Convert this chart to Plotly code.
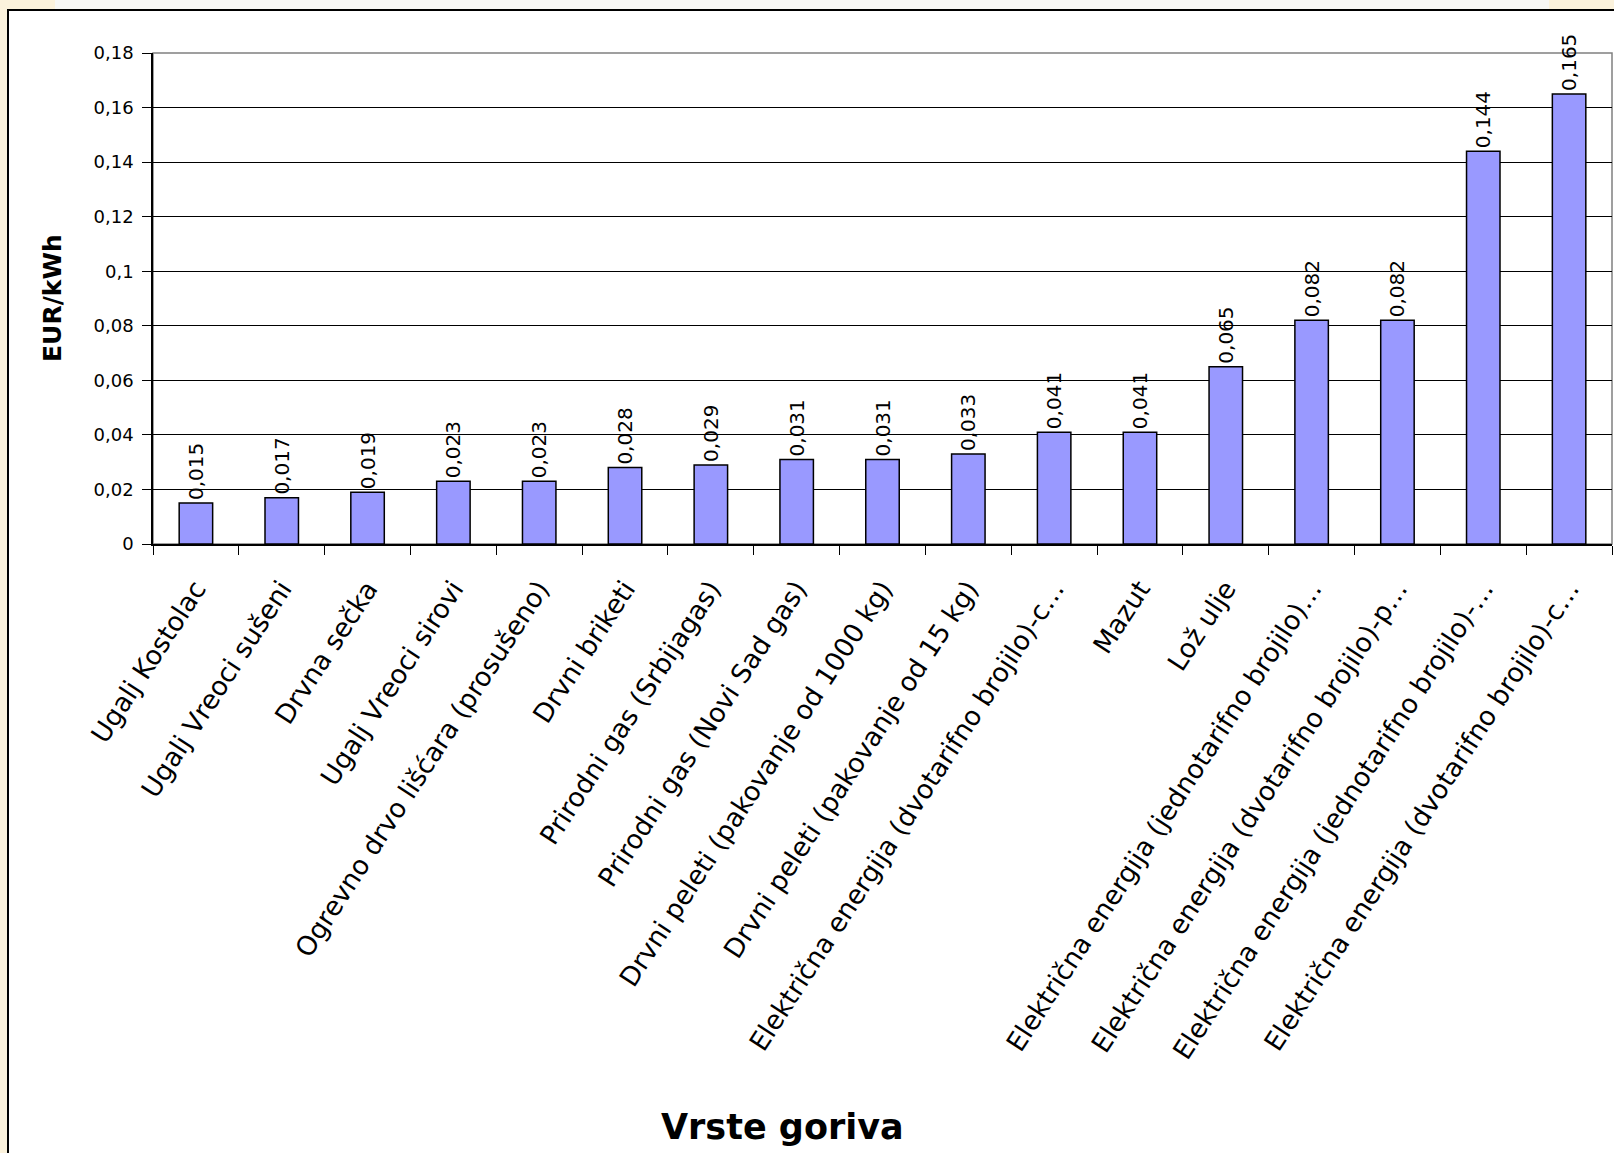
import plotly.graph_objects as go

categories = [
    "Ugalj Kostolac",
    "Ugalj Vreoci sušeni",
    "Drvna sečka",
    "Ugalj Vreoci sirovi",
    "Ogrevno drvo lišćara (prosušeno)",
    "Drvni briketi",
    "Prirodni gas (Srbijagas)",
    "Prirodni gas (Novi Sad gas)",
    "Drvni peleti (pakovanje od 1000 kg)",
    "Drvni peleti (pakovanje od 15 kg)",
    "Električna energija (dvotarifno brojilo)-c…",
    "Mazut",
    "Lož ulje",
    "Električna energija (jednotarifno brojilo)…",
    "Električna energija (dvotarifno brojilo)-p…",
    "Električna energija (jednotarifno brojilo)-…",
    "Električna energija (dvotarifno brojilo)-c…",
]
values = [0.015, 0.017, 0.019, 0.023, 0.023, 0.028, 0.029, 0.031, 0.031,
          0.033, 0.041, 0.041, 0.065, 0.082, 0.082, 0.144, 0.165]
value_labels = ["0,015", "0,017", "0,019", "0,023", "0,023", "0,028", "0,029",
                "0,031", "0,031", "0,033", "0,041", "0,041", "0,065", "0,082",
                "0,082", "0,144", "0,165"]
ytick_vals = [0, 0.02, 0.04, 0.06, 0.08, 0.1, 0.12, 0.14, 0.16, 0.18]
ytick_text = ["0", "0,02", "0,04", "0,06", "0,08", "0,1", "0,12", "0,14", "0,16", "0,18"]
y_title = "EUR/kWh"
x_title = "Vrste goriva"

FONT = "DejaVu Sans"
W, H = 1614, 1153
L, R, T, B = 153, 1612, 53, 544  # plot area in pixels

def px(x):
    return (x - L) / (R - L)

def py(y):
    return (B - y) / (B - T)

idx = list(range(len(categories)))

fig = go.Figure()
fig.add_trace(go.Bar(
    x=idx, y=values, width=0.39,
    marker=dict(color="#9999FF", line=dict(color="#000000", width=1.5)),
    text=value_labels, textposition="outside", textangle=-90,
    textfont=dict(family=FONT, size=20, color="#000000"),
    cliponaxis=False, constraintext="none",
    hoverinfo="skip",
))

shapes = [
    dict(type="rect", xref="paper", yref="paper", x0=px(55), x1=px(1549), y0=py(10), y1=py(0),
         fillcolor="#F7F7F5", line=dict(width=0), layer="below"),
    dict(type="rect", xref="paper", yref="paper", x0=px(8), x1=px(1630), y0=py(1170), y1=py(10),
         fillcolor="#FFFFFF", line=dict(color="#000000", width=2), layer="below"),
    dict(type="rect", xref="paper", yref="paper", x0=0, x1=1, y0=0, y1=1,
         fillcolor="rgba(0,0,0,0)", line=dict(color="#808080", width=1.5), layer="below"),
]

annotations = [
    dict(text=f"<b>{y_title}</b>", xref="paper", yref="paper", x=px(52), y=py(298),
         textangle=-90, showarrow=False, xanchor="center", yanchor="middle",
         font=dict(family=FONT, size=25, color="#000000")),
    dict(text=f"<b>{x_title}</b>", xref="paper", yref="paper", x=px(782), y=py(1127),
         showarrow=False, xanchor="center", yanchor="middle",
         font=dict(family=FONT, size=35, color="#000000")),
]

fig.update_layout(
    width=W, height=H,
    margin=dict(l=L, r=W - R, t=T, b=H - B, pad=0),
    paper_bgcolor="#FBF2DC", plot_bgcolor="#FFFFFF",
    showlegend=False,
    shapes=shapes, annotations=annotations,
    font=dict(family=FONT, color="#000000"),
)
fig.update_xaxes(
    range=[-0.5, len(categories) - 0.5],
    tickmode="array", tickvals=idx, ticktext=categories,
    tickangle=-57, ticks="", showgrid=False, zeroline=False,
    showline=True, linecolor="#000000", linewidth=1.5,
    tickfont=dict(family=FONT, size=26.5, color="#000000"),
    ticklabelstandoff=17,
    minor=dict(tickmode="array", tickvals=[i - 0.5 for i in range(len(categories) + 1)],
               ticks="outside", ticklen=9, tickcolor="#000000", tickwidth=1, showgrid=False),
)
fig.update_yaxes(
    range=[0, 0.18], tickmode="array", tickvals=ytick_vals, ticktext=ytick_text,
    ticks="outside", ticklen=9, tickcolor="#000000", tickwidth=1,
    showgrid=True, gridcolor="#000000", gridwidth=1, zeroline=False,
    showline=True, linecolor="#000000", linewidth=1.5,
    tickfont=dict(family=FONT, size=18, color="#000000"),
    ticklabelstandoff=5,
)

fig.write_html("out.html")
